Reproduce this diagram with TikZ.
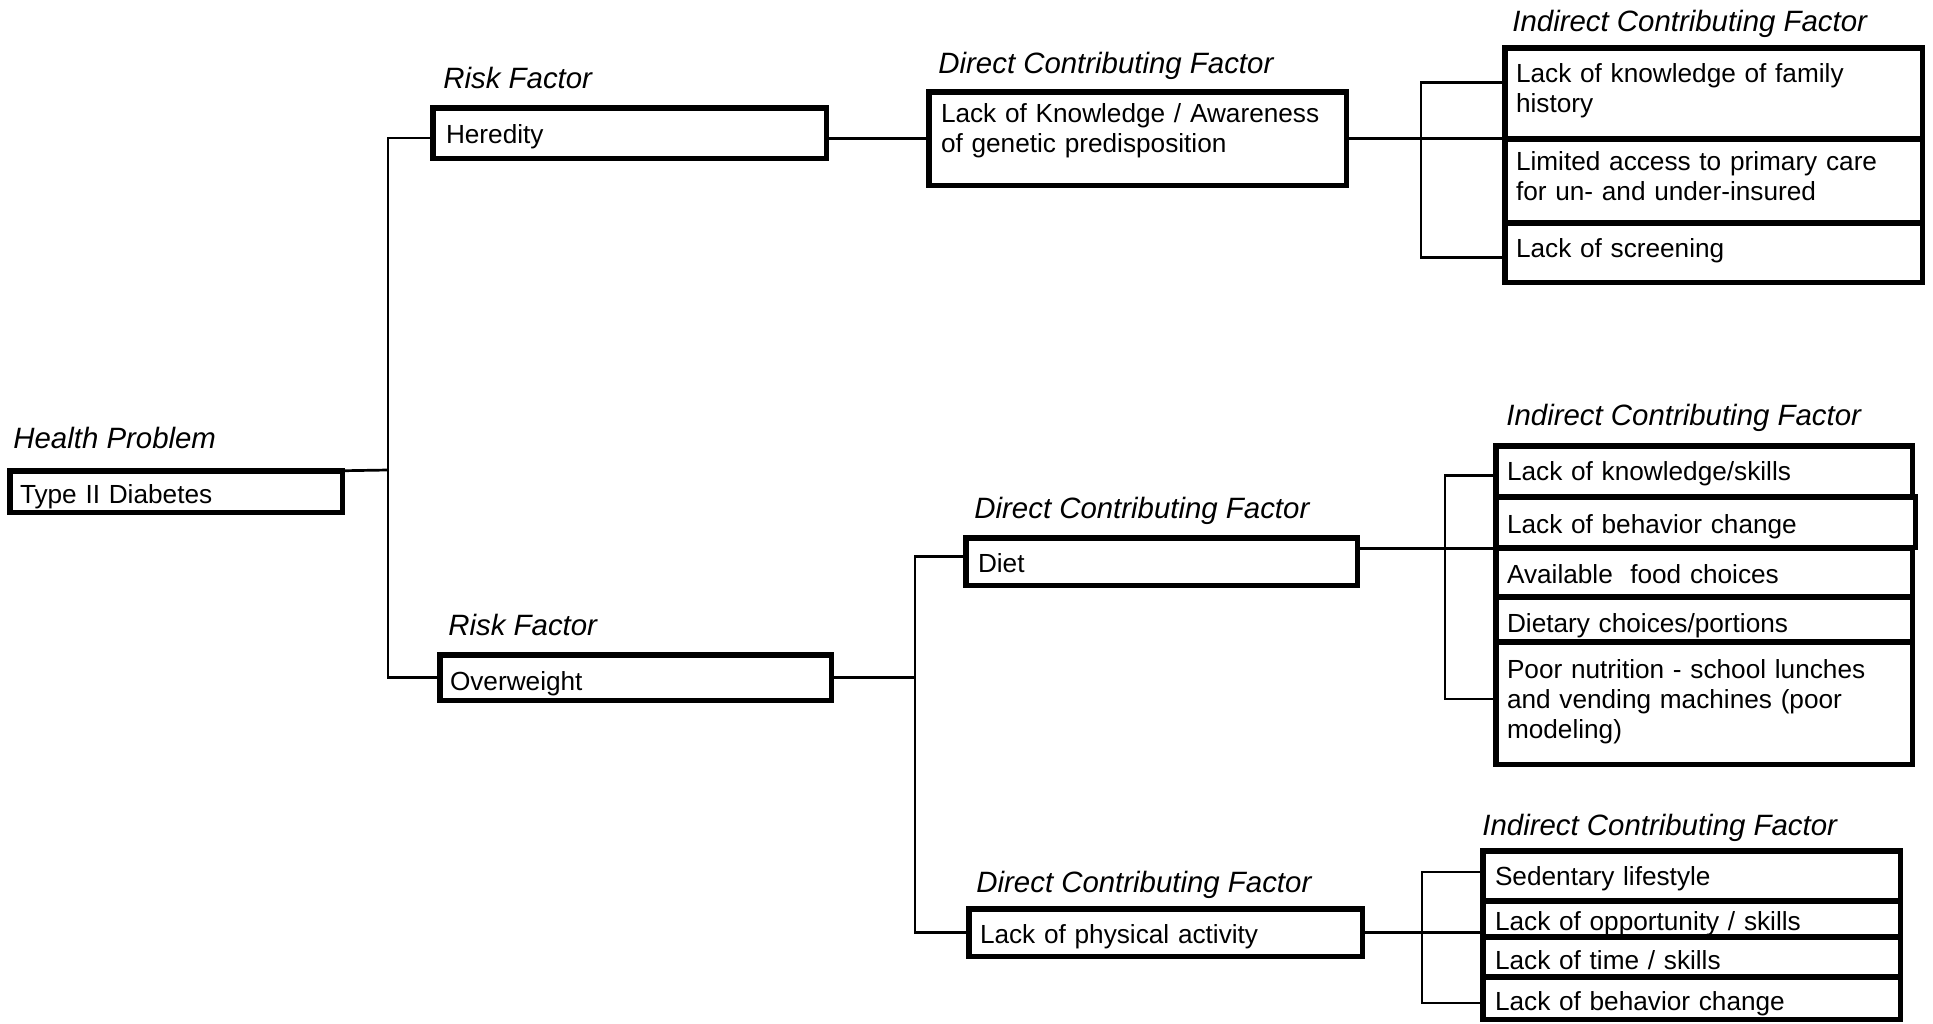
\documentclass[tikz,border=0pt]{standalone}
\usepackage{fontspec}
\setmainfont{Liberation Sans}
\usetikzlibrary{calc}

% Box from outer edges L,T,R,B (px), text left edge and first baseline (px)
% #1 name, #2 L, #3 T, #4 R, #5 B, #6 text left, #7 baseline, #8 text
\newcommand\mkbox[8]{%
  \pgfmathsetmacro\bxpad{#6-#2-2.75}%
  \pgfmathsetmacro\bxs{0.5*\bxpad}%
  \pgfmathsetmacro\bxw{0.5*((#4-2.75)-\bxpad-#6)}%
  \pgfmathsetmacro\bxh{0.5*(#7-#3-2.75)}%
  \pgfmathsetmacro\bxd{0.5*(#5-2.75-#7)}%
  \pgfmathsetmacro\bxx{#2+2.75}%
  \node[box, text width=\bxw pt, text height=\bxh pt, text depth=\bxd pt,
        inner xsep=\bxs pt] (#1) at (\bxx,#7) {#8};}

\tikzset{
  box/.style={draw, line width=2.75pt, anchor=base west, align=left,
              inner ysep=0pt, outer sep=0pt, font=\fontsize{13.1}{15}\selectfont},
  cat/.style={anchor=base west, inner sep=0pt, font=\fontsize{14.7}{17}\selectfont\itshape},
  conn/.style={line width=1.35pt}
}

\begin{document}
\begin{tikzpicture}[x=0.5pt, y=-0.5pt]
\useasboundingbox (0,0) rectangle (1933,1023);

% category captions
\node[cat] (capHP) at (13,448) {Health Problem};
\node[cat] (capRF1) at (443,88) {Risk Factor};
\node[cat] (capRF2) at (448,635) {Risk Factor};
\node[cat] (capDC1) at (938,73) {Direct Contributing Factor};
\node[cat] (capDC2) at (974,518) {Direct Contributing Factor};
\node[cat] (capDC3) at (976,892) {Direct Contributing Factor};
\node[cat] (capIC1) at (1512,31) {Indirect Contributing Factor};
\node[cat] (capIC2) at (1506,425) {Indirect Contributing Factor};
\node[cat] (capIC3) at (1482,835) {Indirect Contributing Factor};

% health problem and risk factors
\mkbox{diab}{7}{468}{345}{515}{20}{503}{Type II Diabetes}
\mkbox{hered}{430}{105}{829}{161}{446}{143}{Heredity}
\mkbox{over}{437}{652}{834}{703}{450}{690}{Overweight}

% direct contributing factors
\mkbox{knowl}{926}{89}{1349}{188}{941}{122}{Lack of Knowledge / Awareness\\of genetic predisposition}
\mkbox{diet}{963}{535}{1360}{588}{978}{572}{Diet}
\mkbox{phys}{966}{906}{1365}{959}{980}{943}{Lack of physical activity}

% indirect factors: heredity
\mkbox{fam}{1502}{45}{1925}{142}{1516}{82}{Lack of knowledge of family\\history}
\mkbox{lim}{1502}{136}{1925}{226}{1516}{170}{Limited access to primary care\\for un- and under-insured}
\mkbox{scrn}{1502}{220}{1925}{285}{1516}{257}{Lack of screening}

% indirect factors: diet
\mkbox{ksk}{1493}{443}{1915}{500}{1507}{480}{Lack of knowledge/skills}
\mkbox{bch}{1493}{494}{1918}{550}{1507}{533}{Lack of behavior change}
\mkbox{food}{1493}{545}{1915}{600}{1507}{583}{Available\ \ food choices}
\mkbox{port}{1493}{594}{1915}{645}{1507}{632}{Dietary choices/portions}
\mkbox{poor}{1493}{639}{1915}{767}{1507}{678}{Poor nutrition - school lunches\\and vending machines (poor\\modeling)}

% indirect factors: physical activity
\mkbox{sed}{1480}{848}{1903}{904}{1495}{885}{Sedentary lifestyle}
\mkbox{opp}{1480}{898}{1903}{940}{1495}{930}{Lack of opportunity / skills}
\mkbox{tim}{1480}{934}{1903}{980}{1495}{969}{Lack of time / skills}
\mkbox{lbc}{1480}{974}{1903}{1022}{1495}{1010}{Lack of behavior change}

% junction points of the tree
\coordinate (j1) at (388,470);
\coordinate (bx0) at (915,0);
\coordinate (bx1) at (1421,0);
\coordinate (bx2) at (1445,0);
\coordinate (bx3) at (1422,0);

% health problem to risk factors
\draw[conn] (diab.north east) -- (j1);
\draw[conn] ([yshift=-2.5pt]hered.west) -| (j1) |- (over.west);

% heredity branch
\draw[conn] (knowl.west) -- (knowl.west -| hered.east);
\draw[conn] (knowl.east) -- (knowl.east -| lim.west);
\draw[conn] ([yshift=5.5pt]fam.west) -- ([yshift=5.5pt]fam.west -| bx1)
            -- ([yshift=-2.5pt]scrn.west -| bx1) -- ([yshift=-2.5pt]scrn.west);

% overweight branch
\draw[conn] (over.east) -- (over.east -| bx0);
\draw[conn] ([yshift=2.5pt]diet.west) -- ([yshift=2.5pt]diet.west -| bx0)
            -- (phys.west -| bx0) -- (phys.west);

% diet to its indirect factors
\draw[conn] ([yshift=6.5pt]diet.east) -- ([yshift=6.5pt]diet.east -| bch.west);
\draw[conn] ([yshift=-2pt]ksk.west) -- ([yshift=-2pt]ksk.west -| bx2)
            -- ([yshift=2pt]poor.west -| bx2) -- ([yshift=2pt]poor.west);

% physical activity to its indirect factors
\draw[conn] (phys.east) -- (phys.east -| opp.west);
\draw[conn] ([yshift=2pt]sed.west) -- ([yshift=2pt]sed.west -| bx3)
            -- ([yshift=-2.5pt]lbc.west -| bx3) -- ([yshift=-2.5pt]lbc.west);
\end{tikzpicture}
\end{document}
